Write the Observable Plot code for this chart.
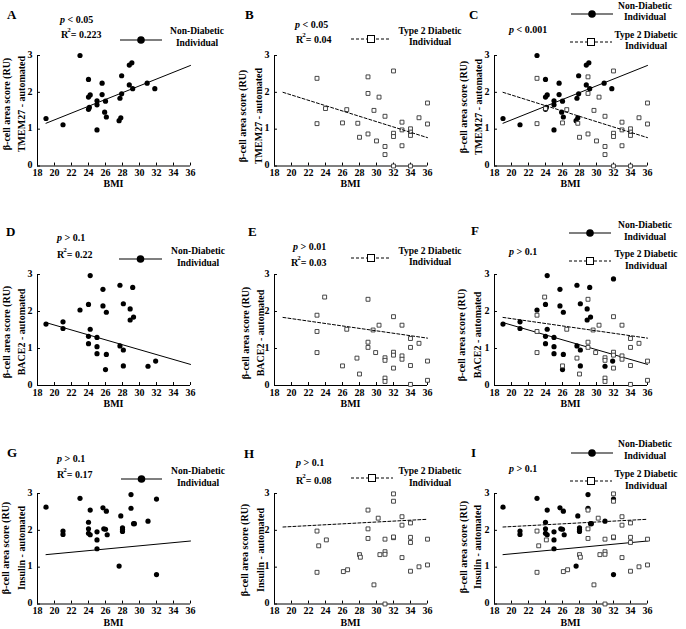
<!DOCTYPE html>
<html><head><meta charset="utf-8">
<script src="https://cdn.jsdelivr.net/npm/d3@7"></script>
<script src="https://cdn.jsdelivr.net/npm/@observablehq/plot@0.6"></script>
<style>
body{margin:0;background:#fff;}
#fig{position:relative;width:686px;height:629px;overflow:hidden;background:#fff;font-family:"Liberation Serif","Times New Roman",serif;font-weight:bold;color:#000;}
.t{position:absolute;white-space:nowrap;line-height:1;}
</style></head><body><div id="fig"></div>
<script>
// ---------- data ----------
const bmiTicks = [18, 20, 22, 24, 26, 28, 30, 32, 34, 36];
const scoreTicks = [0, 1, 2, 3];
const yLabelTop = "β-cell area score (RU)";
const markerNames = ["TMEM27 - automated", "BACE2 - automated", "Insulin - automated"];
const legendND = ["Non-Diabetic", "Individual"];
const legendT2D = ["Type 2 Diabetic", "Individual"];
const panelLetters = ["A", "B", "C", "D", "E", "F", "G", "H", "I"];

// TMEM27 - non-diabetic
const ndTmemBMI   = [19, 21, 23, 24, 24, 24.2, 24, 24.1, 25, 25, 25, 25.6, 25.6, 26, 25.9, 26.1, 27.6, 27.8, 27.7, 27.9, 27.9, 28.8, 29.1, 28.8, 29.2, 30.9, 31.8];
const ndTmemScore = [1.29, 1.12, 3.0, 2.35, 1.87, 1.93, 1.54, 1.59, 1.77, 1.66, 0.98, 2.25, 1.94, 1.76, 1.46, 1.33, 1.23, 1.31, 1.84, 1.96, 2.45, 2.74, 2.8, 2.2, 2.1, 2.25, 2.1];
// TMEM27 - type 2 diabetic
const t2dTmemBMI   = [23, 23, 24, 26, 26.5, 27.8, 28, 29, 29, 29, 29.7, 30, 30.3, 31, 31, 31, 32, 32, 32, 32, 33, 33, 33, 34, 34, 34, 34, 35, 36, 36];
const t2dTmemScore = [2.38, 1.15, 1.56, 1.17, 1.53, 1.16, 0.78, 2.42, 1.97, 0.87, 1.51, 0.68, 1.87, 1.35, 0.53, 0.31, 2.58, 0.89, 0.8, 0.0, 1.19, 0.98, 0.55, 1.01, 0.92, 0.83, 0.0, 1.31, 1.71, 1.14];
// BACE2 - non-diabetic
const ndBaceBMI   = [19, 21, 21, 23, 24, 24.2, 24, 24.2, 24, 25, 25, 25, 25.7, 25.7, 26.1, 26.1, 26, 27.7, 27.7, 28.1, 28.1, 28.1, 29.2, 28.9, 28.9, 29.3, 31, 31.9];
const ndBaceScore = [1.66, 1.72, 1.54, 2.04, 2.19, 2.97, 1.33, 1.52, 1.13, 1.30, 1.05, 0.86, 2.60, 2.15, 1.98, 0.84, 0.43, 2.71, 1.07, 2.21, 0.96, 0.53, 2.65, 2.07, 1.77, 1.85, 0.52, 0.66];
const ndBaceExtraBMI = [32];      // only visible in panel F
const ndBaceExtraScore = [2.88];
// BACE2 - type 2 diabetic
const t2dBaceBMI   = [23, 23, 23, 23.9, 26, 26.5, 27.7, 28, 29, 29, 29, 29.6, 29.9, 30.3, 31, 31, 31, 31, 32, 32, 32, 32, 33, 33, 33, 34, 34, 34, 34, 35, 36, 36];
const t2dBaceScore = [1.90, 1.46, 0.89, 2.39, 0.53, 1.52, 0.74, 0.31, 2.33, 1.17, 1.03, 1.50, 0.89, 1.63, 0.75, 0.68, 0.20, 0.11, 1.86, 0.90, 0.82, 0.47, 1.63, 0.80, 0.71, 1.27, 1.03, 0.54, 0.03, 1.14, 0.66, 0.14];
// Insulin - non-diabetic
const ndInsBMI   = [19, 21, 21, 23, 24, 24, 24, 24.2, 24.2, 25, 25, 25, 25.7, 25.8, 26, 26.1, 26.2, 27.8, 27.6, 28, 28, 28, 29, 29, 29.3, 29.4, 31, 32, 32];
const ndInsScore = [2.63, 1.98, 1.89, 2.87, 2.22, 2.04, 1.92, 1.88, 2.55, 1.96, 1.74, 1.50, 2.61, 2.04, 2.03, 2.52, 1.88, 2.39, 1.03, 2.07, 2.02, 1.97, 2.97, 2.60, 2.18, 2.18, 2.25, 2.85, 0.80];
// Insulin - type 2 diabetic
const t2dInsBMI   = [23, 23.2, 23, 24.1, 26.1, 26.6, 28, 28.1, 29, 29, 29, 29.7, 30.2, 30.4, 31, 31, 31, 31, 32, 32, 32, 32, 33, 33, 33, 34, 34, 34, 34, 35, 36, 36];
const t2dInsScore = [1.98, 1.58, 0.86, 1.74, 0.88, 0.93, 1.34, 1.27, 2.55, 2.04, 1.78, 0.52, 2.33, 1.34, 1.76, 1.42, 1.35, 0.0, 2.99, 2.79, 1.80, 1.82, 2.37, 2.14, 1.26, 2.20, 1.81, 1.67, 0.89, 1.01, 1.76, 1.06];

// regression line end points
const fitBMI = [19, 36];
const ndTmemFit = [1.16, 2.73];
const t2dTmemFit = [2.00, 0.77];
const ndBaceFit = [1.70, 0.57];
const t2dBaceFit = [1.84, 1.28];
const ndInsFit = [1.34, 1.71];
const t2dInsFit = [2.09, 2.30];

// statistics text
const pText = ["p < 0.05", "p < 0.05", "p < 0.001", "p > 0.1", "p > 0.01", "p > 0.1", "p > 0.1", "p > 0.1", "p > 0.1"];
const r2Text = ["0.223", "0.04", null, "0.22", "0.03", null, "0.17", "0.08", null];

// ---------- helpers ----------
const fig = document.getElementById("fig");
const FONT = '"Liberation Serif","Times New Roman",serif';
const rows = (xs, ys) => xs.map((x, i) => ({x, y: ys[i]}));

const ndMarks = (bx, sy, fit) => [
  Plot.dot(rows(bx, sy), {x: "x", y: "y", r: 2.6, fill: "black"}),
  Plot.line(rows(fitBMI, fit), {x: "x", y: "y", stroke: "black", strokeWidth: 1})
];
const t2dMarks = (bx, sy, fit) => [
  Plot.dot(rows(bx, sy), {x: "x", y: "y", symbol: "square", r: 2.2, fill: "white", stroke: "#333", strokeWidth: 0.9}),
  Plot.line(rows(fitBMI, fit), {x: "x", y: "y", stroke: "black", strokeWidth: 1, strokeDasharray: "3,2"})
];

function panel({x0, x1, yBot, yTop, marks}) {
  const mL = 20, mR = 12, mT = 6, mB = 18;
  const W = mL + (x1 - x0) + mR, H = mT + (yBot - yTop) + mB;
  const svg = Plot.plot({
    width: W, height: H,
    marginLeft: mL, marginRight: mR, marginTop: mT, marginBottom: mB,
    x: {domain: [18, 36]}, y: {domain: [0, 3]},
    style: {fontFamily: FONT, fontWeight: "bold", fontSize: "10px", background: "transparent", overflow: "visible", color: "black"},
    marks: [
      Plot.axisX(bmiTicks, {tickSize: 0, tickPadding: 3, label: null, fontWeight: "bold", fontSize: 10, fill: "black"}),
      Plot.axisY(scoreTicks, {tickSize: 0, tickPadding: 5, dy: -1, label: null, fontWeight: "bold", fontSize: 10, fill: "black"}),
      Plot.ruleX(bmiTicks, {x: d => d, y1: d => 0, y2: d => 0.08, stroke: "black"}),
      Plot.ruleY(scoreTicks, {y: d => d, x1: d => 18, x2: d => 18.35, stroke: "black"}),
      Plot.ruleX([18], {stroke: "black"}),
      Plot.ruleY([0], {stroke: "black"}),
      ...marks
    ]
  });
  svg.style.position = "absolute";
  svg.style.left = (x0 - mL) + "px";
  svg.style.top = (yTop - mT) + "px";
  fig.appendChild(svg);
}

function text(x, y, html, {size = 10, anchor = "start", rotate = false} = {}) {
  const d = document.createElement("div");
  d.className = "t";
  d.innerHTML = html;
  d.style.left = x + "px";
  d.style.top = y + "px";
  d.style.fontSize = size + "px";
  const tx = anchor === "middle" ? "-50%" : "0";
  d.style.transform = rotate ? "translate(-50%,-50%) rotate(-90deg)" : `translate(${tx},-50%)`;
  fig.appendChild(d);
}

function legend(type, lx0, lx1, ly, cx, ty1, ty2) {
  const ns = "http://www.w3.org/2000/svg";
  const s = document.createElementNS(ns, "svg");
  const w = lx1 - lx0;
  s.setAttribute("width", w + 2); s.setAttribute("height", 12);
  s.style.position = "absolute"; s.style.left = (lx0 - 1) + "px"; s.style.top = (ly - 6) + "px";
  const mid = w / 2 + 1;
  if (type === "nd") {
    s.innerHTML = `<line x1="1" x2="${w + 1}" y1="6" y2="6" stroke="black" stroke-width="1.2"/><circle cx="${mid}" cy="6" r="3.8" fill="black"/>`;
  } else {
    s.innerHTML = `<line x1="1" x2="${w + 1}" y1="6" y2="6" stroke="black" stroke-width="1" stroke-dasharray="3,2"/><rect x="${mid - 3.5}" y="2.5" width="7" height="7" fill="white" stroke="black" stroke-width="1"/>`;
  }
  fig.appendChild(s);
  const lab = type === "nd" ? legendND : legendT2D;
  text(cx, ty1, lab[0], {size: 9.5, anchor: "middle"});
  text(cx, ty2, lab[1], {size: 9.5, anchor: "middle"});
}

function stats(i, px, py, rx, ry) {
  text(px, py, pText[i].startsWith("p <") ? "<i>p</i> &lt; " + pText[i].slice(4) : "<i>p</i> &gt; " + pText[i].slice(4));
  if (r2Text[i] != null) {
    text(rx, ry, `R<span style="position:relative;top:-6px;font-size:7px;margin-left:-1px;">2</span>= ${r2Text[i]}`);
  }
}

// ---------- layout ----------
const cols = [[37, 190], [274, 427], [494, 647]];
const rowsY = [[165, 54.5], [385, 274], [603.5, 493]];
const ndSets = [[ndTmemBMI, ndTmemScore, ndTmemFit], [ndBaceBMI, ndBaceScore, ndBaceFit], [ndInsBMI, ndInsScore, ndInsFit]];
const t2dSets = [[t2dTmemBMI, t2dTmemScore, t2dTmemFit], [t2dBaceBMI, t2dBaceScore, t2dBaceFit], [t2dInsBMI, t2dInsScore, t2dInsFit]];

for (let r = 0; r < 3; r++) {
  const [yBot, yTop] = rowsY[r];
  const nd = ndSets[r], t2 = t2dSets[r];
  panel({x0: cols[0][0], x1: cols[0][1], yBot, yTop, marks: ndMarks(...nd)});
  panel({x0: cols[1][0], x1: cols[1][1], yBot, yTop, marks: t2dMarks(...t2)});
  const extra = r === 1 ? [Plot.dot(rows(ndBaceExtraBMI, ndBaceExtraScore), {x: "x", y: "y", r: 2.6, fill: "black"})] : [];
  panel({x0: cols[2][0], x1: cols[2][1], yBot, yTop, marks: [...ndMarks(...nd), ...extra, ...t2dMarks(...t2)]});
  for (let c = 0; c < 3; c++) {
    text((cols[c][0] + cols[c][1]) / 2, yBot + 19, "BMI", {size: 10, anchor: "middle"});
  }
}

// y-axis labels: [line1 x, line2 x, center y]
const yLab = [[7, 22, 104], [243, 259, 116], [464, 479, 107],
              [7, 22, 332], [246, 261, 333], [462, 478, 335],
              [6, 22, 548], [245, 261, 550], [464, 478, 547]];
yLab.forEach(([a, b, cy], i) => {
  text(a, cy, yLabelTop, {size: 10, rotate: true});
  text(b, cy, markerNames[Math.floor(i / 3)], {size: 10, rotate: true});
});

// panel letters
const letterPos = [[7, 14], [245, 14], [469, 14], [6, 231], [248, 231], [471, 230], [7, 452], [244, 453], [471, 452]];
letterPos.forEach(([x, y], i) => text(x, y, panelLetters[i], {size: 13}));

// stats
const statPos = [[60, 19.5, 61, 34.5], [295, 25, 296, 40], [509, 30],
                 [57, 238, 57, 255], [293, 247, 291, 263], [509, 252],
                 [57, 459, 57, 475], [296, 463, 296, 481], [509, 469]];
statPos.forEach((p, i) => stats(i, p[0], p[1], p[2], p[3]));

// legends
legend("nd", 120, 162, 40, 197, 32, 44);
legend("t2d", 351, 391, 39, 430, 32, 43);
legend("nd", 571, 613, 14, 645, 7, 18);
legend("t2d", 570, 612, 42, 646, 36, 47);
legend("nd", 119, 162, 259, 198, 252, 264);
legend("t2d", 351, 391, 258, 430, 252, 263);
legend("nd", 569, 611, 233, 645, 226, 238);
legend("t2d", 569, 611, 261, 646, 255, 267);
legend("nd", 121, 162, 479, 198, 472, 484);
legend("t2d", 351, 393, 478, 430, 472, 484);
legend("nd", 571, 613, 453, 645, 445, 457);
legend("t2d", 570, 612, 481, 646, 475, 487);
</script>
</body></html>
